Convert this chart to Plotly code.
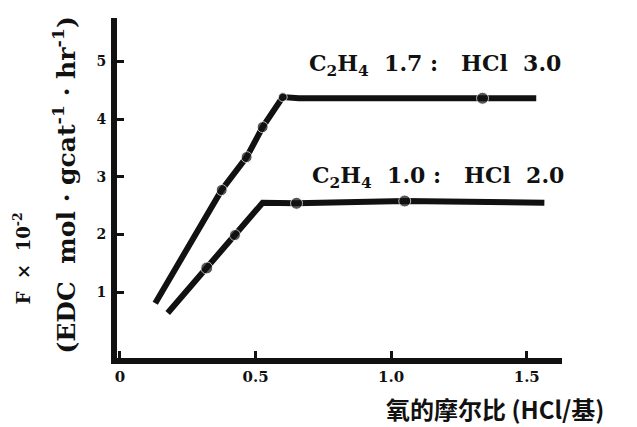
import plotly.graph_objects as go

# Rate vs. oxygen molar ratio for two C2H4 : HCl feed ratios
x_high = [0.13, 0.375, 0.467, 0.526, 0.60, 0.66, 1.337, 1.535]
y_high = [0.81, 2.77, 3.34, 3.86, 4.38, 4.36, 4.36, 4.36]
m_high = [0, 11, 11, 11, 9, 0, 12, 0]

x_low = [0.176, 0.32, 0.424, 0.526, 0.651, 1.05, 1.565]
y_low = [0.64, 1.42, 1.99, 2.55, 2.54, 2.58, 2.55]
m_low = [0, 12, 11, 0, 12, 12, 0]

label_high = "C<sub>2</sub>H<sub>4</sub>  1.7 :   HCl  3.0"
label_low = "C<sub>2</sub>H<sub>4</sub>  1.0 :   HCl  2.0"

x_ticks = [0, 0.5, 1.0, 1.5]
x_tick_text = ["0", "0.5", "1.0", "1.5"]
y_ticks = [1, 2, 3, 4, 5]
y_tick_text = ["1", "2", "3", "4", "5"]

x_title = "氧的摩尔比 (HCl/基)"
y_title_1 = "F  ×  10<sup>-2</sup>"
y_title_2 = "(EDC  mol · gcat<sup>-1</sup> · hr<sup>-1</sup>)"

serif = "DejaVu Serif"
ink = "#111111"

fig = go.Figure()
for xs, ys, ms in [(x_high, y_high, m_high), (x_low, y_low, m_low)]:
    fig.add_trace(go.Scatter(
        x=xs, y=ys, mode="lines+markers",
        line=dict(color=ink, width=6),
        marker=dict(color=ink, size=ms, symbol="circle"),
        showlegend=False, hoverinfo="skip",
    ))

fig.add_annotation(x=0.69, y=4.94, xref="x", yref="y", text="<b>" + label_high + "</b>",
                   showarrow=False, xanchor="left", yanchor="middle",
                   font=dict(family=serif, size=22, color=ink))
fig.add_annotation(x=0.70, y=3.0, xref="x", yref="y", text="<b>" + label_low + "</b>",
                   showarrow=False, xanchor="left", yanchor="middle",
                   font=dict(family=serif, size=22, color=ink))

fig.add_annotation(x=-0.213, y=0.294, xref="paper", yref="paper", text="<b>" + y_title_1 + "</b>",
                   showarrow=False, textangle=-90, xanchor="center", yanchor="middle",
                   font=dict(family=serif, size=18, color=ink))
fig.add_annotation(x=-0.117, y=0.51, xref="paper", yref="paper", text="<b>" + y_title_2 + "</b>",
                   showarrow=False, textangle=-90, xanchor="center", yanchor="middle",
                   font=dict(family=serif, size=25, color=ink))
fig.add_annotation(x=0.85, y=-0.15, xref="paper", yref="paper", text=x_title,
                   showarrow=False, xanchor="center", yanchor="middle",
                   font=dict(family="Noto Sans CJK SC", size=24, color=ink, weight="bold"))

fig.update_layout(
    width=637, height=427,
    margin=dict(l=117, r=75, t=18, b=69),
    paper_bgcolor="white", plot_bgcolor="white",
    font=dict(family=serif, color=ink),
    xaxis=dict(
        range=[-0.011, 1.63], showgrid=False, zeroline=False,
        showline=True, linewidth=6, linecolor=ink,
        ticks="inside", ticklen=7, tickwidth=3, tickcolor=ink,
        tickvals=x_ticks, ticktext=["<b>" + t + "</b>" for t in x_tick_text],
        tickfont=dict(family=serif, size=15, color=ink),
    ),
    yaxis=dict(
        range=[-0.14, 5.75], showgrid=False, zeroline=False,
        showline=True, linewidth=6, linecolor=ink,
        ticks="inside", ticklen=7, tickwidth=3, tickcolor=ink,
        tickvals=y_ticks, ticktext=["<b>" + t + "</b>" for t in y_tick_text],
        tickfont=dict(family=serif, size=14, color=ink),
        ticklabelstandoff=2,
    ),
)

fig.write_html("out.html")
